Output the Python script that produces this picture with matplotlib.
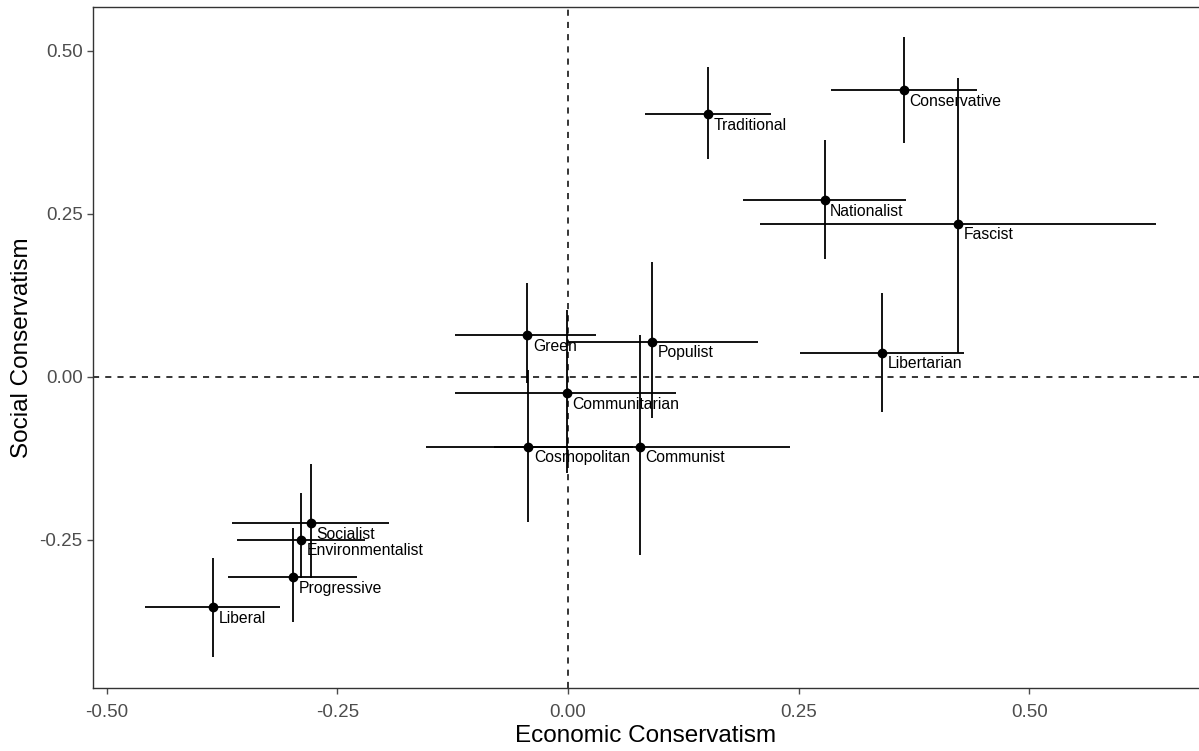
import numpy as np
import matplotlib.pyplot as plt

plt.rcParams["font.family"] = ["Liberation Sans", "DejaVu Sans"]

# ideology positions (economic, social) with interval bounds
labels = ["Conservative", "Traditional", "Nationalist", "Fascist", "Libertarian",
          "Populist", "Green", "Communitarian", "Cosmopolitan", "Communist",
          "Socialist", "Environmentalist", "Progressive", "Liberal"]
econ = np.array([0.364, 0.152, 0.278, 0.423, 0.340, 0.091, -0.044, -0.001,
                 -0.043, 0.078, -0.279, -0.289, -0.298, -0.385])
econ_lo = np.array([0.285, 0.083, 0.190, 0.208, 0.251, -0.001, -0.122, -0.122,
                    -0.154, -0.080, -0.364, -0.359, -0.368, -0.459])
econ_hi = np.array([0.443, 0.220, 0.366, 0.637, 0.429, 0.206, 0.030, 0.117,
                    0.070, 0.240, -0.194, -0.220, -0.229, -0.312])
soc = np.array([0.440, 0.403, 0.271, 0.235, 0.037, 0.054, 0.064, -0.025,
                -0.107, -0.107, -0.224, -0.250, -0.307, -0.353])
soc_lo = np.array([0.359, 0.334, 0.181, 0.037, -0.054, -0.063, -0.009, -0.147,
                   -0.222, -0.273, -0.308, -0.308, -0.376, -0.429])
soc_hi = np.array([0.521, 0.475, 0.363, 0.459, 0.129, 0.176, 0.144, 0.103,
                   0.011, 0.064, -0.133, -0.178, -0.232, -0.278])

xticks = [-0.50, -0.25, 0.00, 0.25, 0.50]
yticks = [-0.25, 0.00, 0.25, 0.50]

fig = plt.figure(figsize=(11.99, 7.51), dpi=100)
ax = fig.add_axes([0.0776, 0.0839, 0.9224, 0.9068])

ax.axhline(0, color="black", lw=1.1, ls=(0, (4, 4)), zorder=1)
ax.axvline(0, color="black", lw=1.1, ls=(0, (4, 4)), zorder=1)

ax.hlines(soc, econ_lo, econ_hi, color="black", lw=1.3, zorder=2)
ax.vlines(econ, soc_lo, soc_hi, color="black", lw=1.3, zorder=2)
ax.plot(econ, soc, "o", color="black", ms=6, zorder=3)

for lab, x, y in zip(labels, econ, soc):
    ax.annotate(lab, (x, y), xytext=(4, -2.5), textcoords="offset points",
                ha="left", va="top", fontsize=11.3, color="black", zorder=4)

ax.set_xlim(-0.5148, 0.6838)
ax.set_ylim(-0.477, 0.5675)
ax.set_xticks(xticks)
ax.set_xticklabels([f"{t:.2f}" for t in xticks])
ax.set_yticks(yticks)
ax.set_yticklabels([f"{t:.2f}" for t in yticks])
ax.tick_params(colors="#4D4D4D", labelsize=13.5, length=4, width=1)
ax.tick_params(axis="x", pad=7.5)
for s in ["left", "top", "bottom"]:
    ax.spines[s].set_color("#333333")
    ax.spines[s].set_linewidth(1.0)
ax.spines["right"].set_visible(False)

ax.set_xlabel("Economic Conservatism", fontsize=17.5, labelpad=3)
ax.set_ylabel("Social Conservatism", fontsize=17.5, labelpad=5)

fig.savefig("out.png", dpi=100)
